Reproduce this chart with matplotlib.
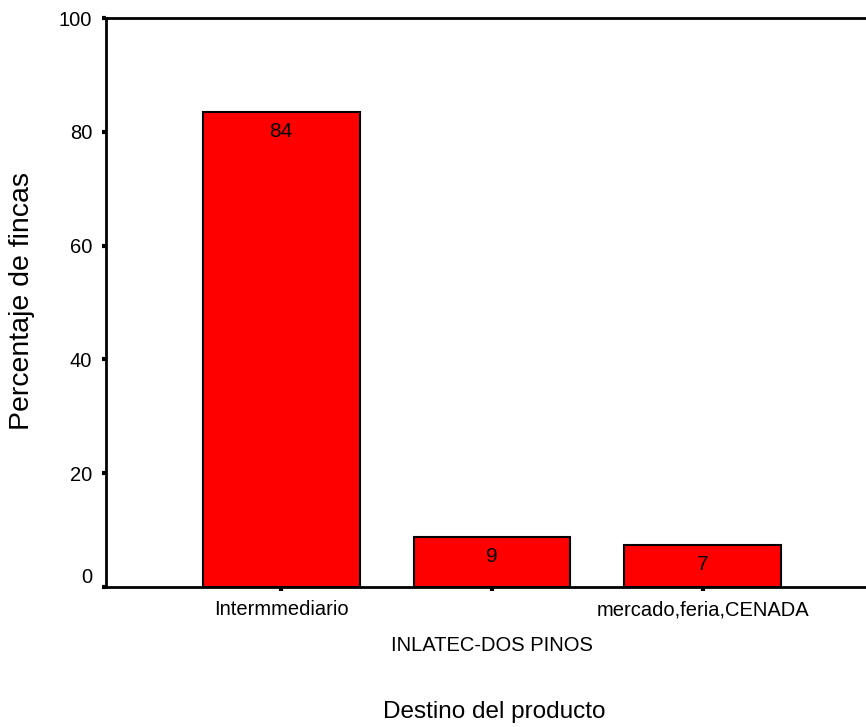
import matplotlib
matplotlib.use('Agg')
import matplotlib.pyplot as plt

# 数据
categorias = ['Intermmediario', 'INLATEC-DOS PINOS', 'mercado,feria,CENADA']
porcentajes = [83.5, 8.8, 7.4]
yticks = [0, 20, 40, 60, 80, 100]

plt.rcParams['font.family'] = ['Liberation Sans', 'DejaVu Sans']

fig = plt.figure(figsize=(8.66, 7.27), dpi=100)
# 坐标区右边超出画布, 右边框不显示
ax = fig.add_axes([106 / 866, 140 / 727, 772 / 866, 569 / 727])

x = list(range(len(categorias)))
bars = ax.bar(x, porcentajes, width=0.744, color='#ff0000', edgecolor='black', linewidth=1.5)

# 柱内数值
for b, v in zip(bars, porcentajes):
    ax.annotate('%.0f' % v, (b.get_x() + b.get_width() / 2, v), xytext=(0, -20),
                textcoords='offset pixels', ha='center', va='center', fontsize=15)

ax.set_xlim(-0.83, 2.83)
ax.set_ylim(0, 100)
ax.set_yticks(yticks)
ax.set_yticklabels([str(t) for t in yticks], fontsize=14.5)
ax.set_xticks(x)
ax.set_xticklabels(categorias, fontsize=14.5)

ax.tick_params(axis='both', direction='out', length=3, width=3, color='black')
ax.tick_params(axis='y', pad=7)
ax.tick_params(axis='x', pad=6.5)
# 中间标签错开一行
ax.xaxis.get_major_ticks()[1].set_pad(32.5)
ax.get_yticklabels()[0].set_va('bottom')

for s in ['left', 'bottom', 'top']:
    ax.spines[s].set_linewidth(2)
ax.spines['right'].set_visible(False)

fig.text(22 / 866, 1 - 301 / 727, 'Percentaje de fincas', rotation=90,
         ha='center', va='center', fontsize=20.5)
fig.text(494 / 866, 1 - 712 / 727, 'Destino del producto',
         ha='center', va='center', fontsize=17.5)

fig.savefig('out.png', dpi=100)
